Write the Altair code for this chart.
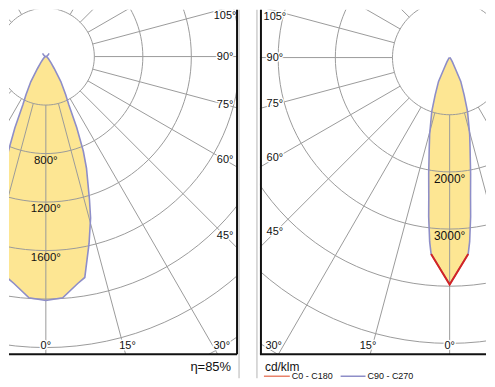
import math
import altair as alt
import pandas as pd

# ---------------- data ----------------
# Left diagram: angle from nadir (deg) and luminous intensity (cd/klm)
LEFT_ANGLES = [0, 4, 8, 10, 13, 15.5, 17, 20, 21.6, 23.5, 25.5, 27.5, 31, 35, 40, 50, 60, 75, 90, 110, 125, 135]
LEFT_CD = [2012, 1995, 1890, 1850, 1584, 1381, 1230, 980, 840, 640, 440, 355, 240, 120, 65, 28, 14, 6, 2, 8, 22, 38]
LEFT_RINGS = [400, 800, 1200, 1600, 2000, 2400, 2800]
LEFT_RING_LABELS = [800, 1200, 1600]

# Right diagram: C90 - C270 (blue) and the visible part of C0 - C180 (red)
RIGHT_ANGLES = [0, 5.4, 6.2, 7.5, 8.5, 10.2, 12.8, 14.6, 18.4, 21.2, 25, 27.2, 32, 40, 55, 90]
RIGHT_CD = [3970, 3450, 3240, 2810, 2470, 2070, 1610, 1390, 990, 700, 460, 210, 90, 35, 10, 0]
RED_ANGLES = [0, 5.4]
RED_CD = [3970, 3450]
RIGHT_RINGS = [1000, 2000, 3000, 4000, 5000, 6000]
RIGHT_RING_LABELS = [2000, 3000]

ANGLE_LABELS = [0, 15, 30, 45, 60, 75, 90, 105]
EFFICIENCY = "η=85%"
UNIT = "cd/klm"
LEGEND = ["C0 - C180", "C90 - C270"]

# ---------------- styling ----------------
YELLOW = "#fde693"
BLUE = "#8e8ec8"
RED = "#d42424"
GRID = "#9a9a9a"
FONT = "Liberation Sans"
H = 346


def mirrored(angles, values):
    rows = []
    pts = [(-a, v) for a, v in zip(angles, values)][::-1] + [(a, v) for a, v in zip(angles, values)]
    for i, (a, v) in enumerate(pts):
        rows.append({"i": i, "ang": a, "cd": v})
    return pd.DataFrame(rows)


def polar(chart):
    return chart.transform_calculate(
        x="datum.cd * sin(datum.ang * PI / 180)",
        y="-datum.cd * cos(datum.ang * PI / 180)",
    )


def panel(width, k, cx, cy, angles, values, rings, ring_labels, label_size,
          side, side_dist, bottom_dist, red=None):
    xs = alt.Scale(domain=[-cx / k, (width - cx) / k], nice=False, zero=False)
    ys = alt.Scale(domain=[-(H - cy) / k, cy / k], nice=False, zero=False)
    X = lambda f: alt.X(f, type="quantitative", scale=xs, axis=None)
    Y = lambda f: alt.Y(f, type="quantitative", scale=ys, axis=None)

    # filled lobe (half-curve mirrored with x2)
    half = pd.DataFrame({"ang": [a for a in angles if a <= 90],
                         "cd": [v for a, v in zip(angles, values) if a <= 90]})
    fill = polar(alt.Chart(half)).transform_calculate(xn="-datum.x").mark_area(
        orient="horizontal", color=YELLOW, clip=True
    ).encode(x=X("x"), x2="xn:Q", y=Y("y"))

    # grid rings
    ring_rows = [{"ring": r, "t": t} for r in rings for t in range(0, 361, 3)]
    ring_df = pd.DataFrame(ring_rows)
    ring_layer = alt.Chart(ring_df).transform_calculate(
        x="datum.ring * sin(datum.t * PI / 180)",
        y="-datum.ring * cos(datum.t * PI / 180)",
    ).mark_line(color=GRID, strokeWidth=1, clip=True).encode(
        x=X("x"), y=Y("y"), detail="ring:N", order="t:Q"
    )

    # radial lines every 15 degrees, from the inner circle outwards
    rad_df = pd.DataFrame({"a": list(range(0, 360, 15))})
    rad_df["r0"] = rings[0]
    rad_df["r1"] = rings[-1] * 1.5
    radial = alt.Chart(rad_df).transform_calculate(
        x="datum.r0 * sin(datum.a * PI / 180)",
        y="-datum.r0 * cos(datum.a * PI / 180)",
        x2="datum.r1 * sin(datum.a * PI / 180)",
        y2="-datum.r1 * cos(datum.a * PI / 180)",
    ).mark_rule(color=GRID, strokeWidth=1, clip=True).encode(
        x=X("x"), y=Y("y"), x2="x2:Q", y2="y2:Q"
    )

    outline = polar(alt.Chart(mirrored(angles, values))).mark_line(
        color=BLUE, strokeWidth=1.6, clip=True
    ).encode(x=X("x"), y=Y("y"), order="i:Q")

    layers = [fill, ring_layer, radial, outline]

    if red is not None:
        red_line = polar(alt.Chart(mirrored(*red))).mark_line(
            color=RED, strokeWidth=2, clip=True
        ).encode(x=X("x"), y=Y("y"), order="i:Q")
        layers.append(red_line)

    # ring value labels on the 0 degree axis
    rl = pd.DataFrame({"cd": ring_labels})
    rl["label"] = [f"{v}°" for v in ring_labels]
    rl["zero"] = 0
    rl["y"] = -rl["cd"]
    layers.append(alt.Chart(rl).mark_text(
        font=FONT, fontSize=label_size, color="#111", dy=7
    ).encode(x=X("zero"), y=Y("y"), text="label:N"))

    # angle labels near the frame edges (white halo hides the grid under them)
    rows = []
    for a in ANGLE_LABELS:
        if a <= 30:
            px = bottom_dist[1] * math.tan(math.radians(a))
            py = bottom_dist[0]
        else:
            px = side_dist
            py = max(side_dist / math.tan(math.radians(a)), -41)
        rows.append({"label": f"{a}°", "lx": side * px / k, "ly": -py / k})
    al = pd.DataFrame(rows)
    base = alt.Chart(al).encode(x=X("lx"), y=Y("ly"), text="label:N")
    layers.append(base.mark_text(font=FONT, fontSize=11, color="white",
                                 stroke="white", strokeWidth=3))
    layers.append(base.mark_text(font=FONT, fontSize=11, color="#111"))

    return layers


one = pd.DataFrame({"a": [0]})

# ---------------- left panel ----------------
LW = 229
left_layers = panel(LW, 48.7 / 400, 37, 47, LEFT_ANGLES, LEFT_CD, LEFT_RINGS,
                    LEFT_RING_LABELS, 11.5, 1, 180, (291, 306))
left_layers += [
    alt.Chart(one).mark_rule(color="#111", strokeWidth=2).encode(
        x=alt.value(LW), y=alt.value(0), y2=alt.value(H)),
    alt.Chart(one).mark_rule(color="#111", strokeWidth=2).encode(
        x=alt.value(0), x2=alt.value(LW), y=alt.value(H)),
    alt.Chart(one).mark_rule(color="#b4b4b4", strokeWidth=1).encode(
        x=alt.value(LW + 2), y=alt.value(0), y2=alt.value(370)),
    alt.Chart(pd.DataFrame({"t": [EFFICIENCY]})).mark_text(
        font=FONT, fontSize=13, align="right", color="#111").encode(
        x=alt.value(223), y=alt.value(359), text="t:N"),
]
left = alt.layer(*left_layers).properties(width=LW, height=H)

# ---------------- right panel ----------------
RW = 227
right_layers = panel(RW, 57.4 / 1000, 190.5, 48, RIGHT_ANGLES, RIGHT_CD, RIGHT_RINGS,
                     RIGHT_RING_LABELS, 12, -1, 175.5, (290, 306),
                     red=(RED_ANGLES, RED_CD))
leg = pd.DataFrame({"name": LEGEND, "color": [RED, BLUE]})
right_layers += [
    alt.Chart(one).mark_rule(color="#111", strokeWidth=2).encode(
        x=alt.value(1), y=alt.value(0), y2=alt.value(H)),
    alt.Chart(one).mark_rule(color="#111", strokeWidth=2).encode(
        x=alt.value(0), x2=alt.value(RW), y=alt.value(H)),
    alt.Chart(one).mark_rule(color="#b4b4b4", strokeWidth=1).encode(
        x=alt.value(-3), y=alt.value(0), y2=alt.value(370)),
    alt.Chart(pd.DataFrame({"t": [UNIT]})).mark_text(
        font=FONT, fontSize=12, align="left", color="#111").encode(
        x=alt.value(5), y=alt.value(359), text="t:N"),
    alt.Chart(leg.iloc[[0]]).mark_rule(color="#e8826a", strokeWidth=1.5).encode(
        x=alt.value(4), x2=alt.value(30), y=alt.value(368)),
    alt.Chart(leg.iloc[[1]]).mark_rule(color=BLUE, strokeWidth=1.5).encode(
        x=alt.value(81), x2=alt.value(106), y=alt.value(368)),
    alt.Chart(leg.iloc[[0]]).mark_text(
        font=FONT, fontSize=9, align="left", color="#111").encode(
        x=alt.value(32), y=alt.value(368), text="name:N"),
    alt.Chart(leg.iloc[[1]]).mark_text(
        font=FONT, fontSize=9, align="left", color="#111").encode(
        x=alt.value(108), y=alt.value(368), text="name:N"),
]
right = alt.layer(*right_layers).properties(width=RW, height=H)

chart = alt.hconcat(left, right, spacing=23, bounds="flush").properties(
    padding=0
).configure_view(stroke=None)

chart.save("out.html", embed_options={"renderer": "svg", "actions": False})
